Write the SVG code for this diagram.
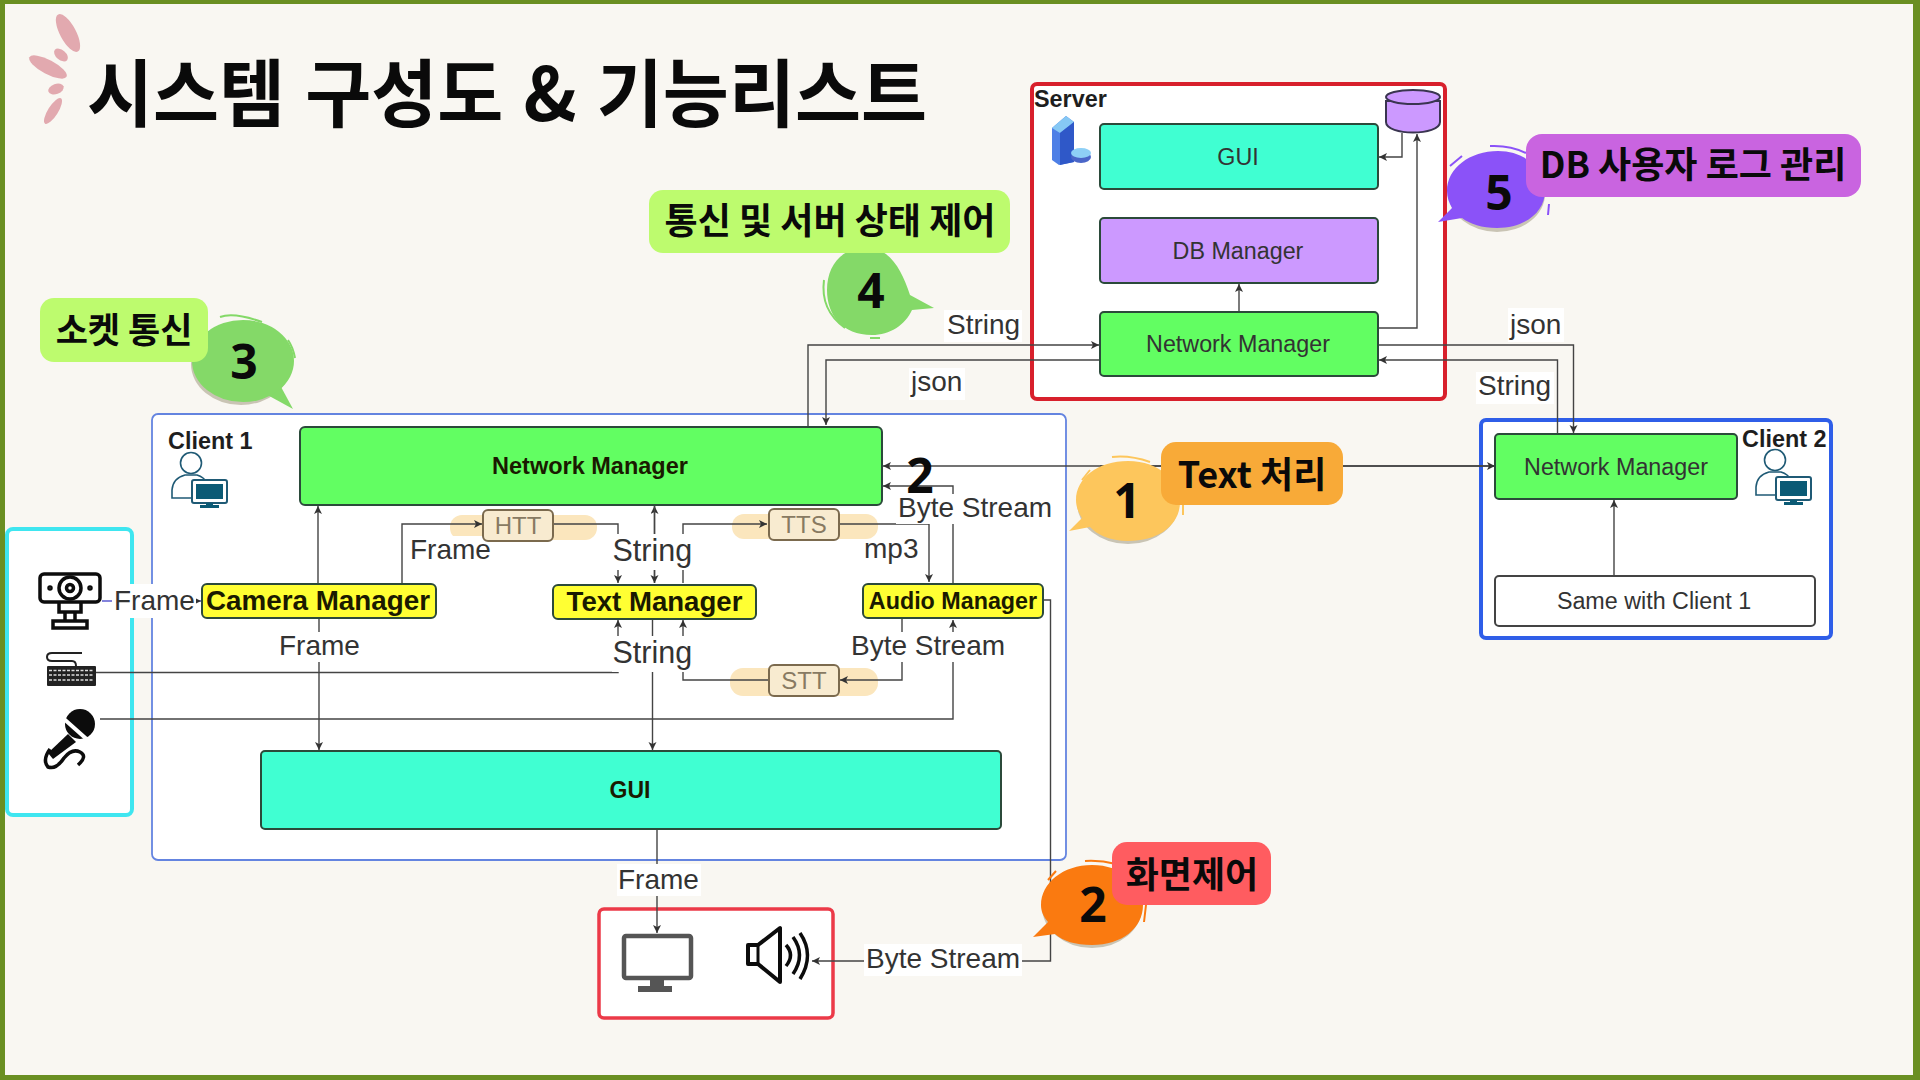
<svg xmlns="http://www.w3.org/2000/svg" width="1920" height="1080" viewBox="0 0 1920 1080">
<style>
.lb{font-family:"Liberation Sans",Arial,sans-serif;font-size:28px;fill:#333;}
.reg{font-family:"Liberation Sans",Arial,sans-serif;font-size:23.3px;fill:#333;text-anchor:middle}
.bold{font-family:"Liberation Sans",Arial,sans-serif;font-weight:700;font-size:23.4px;fill:#1e1e1e;}
.mgr{font-family:"Liberation Sans",Arial,sans-serif;font-weight:700;fill:#1a1a00;text-anchor:middle}
.kr{font-family:"Noto Sans CJK KR","Liberation Sans",sans-serif;font-weight:700;fill:#0a0a0a;text-anchor:middle}
.num{font-family:"Noto Sans","Liberation Sans",sans-serif;font-weight:700;fill:#0a0a0a;text-anchor:middle;font-size:48px}
.box{stroke:#2b4a3a;stroke-width:2}
.g{fill:#62fe62}.t{fill:#40ffd2}.p{fill:#cc99ff;}.y{fill:#ffff33}
.tag{fill:#f8ebd0;stroke:#7b6a4e;stroke-width:2;}
.hl{fill:#fbe6bd}
.tagt{font-family:"Liberation Sans",Arial,sans-serif;font-size:24px;fill:#887a62;text-anchor:middle}
.c{fill:none;stroke:#444;stroke-width:1.4}
.wb{fill:#fff}
.arc{fill:none;stroke-width:2}
.sh{fill:#c9c4b4}
</style>
<defs>
<marker id="a" markerWidth="9" markerHeight="9" refX="8" refY="4" orient="auto" markerUnits="userSpaceOnUse"><path d="M0 0L8 4L0 8L2 4Z" fill="#333"/></marker>
<g id="usr"><circle cx="20" cy="11" r="10.5" fill="#fff" stroke="#1f5a75" stroke-width="1.6"/><path d="M1 46V38Q2 26 14 23H26Q33 25 36 31V46Z" fill="#fff" stroke="#1f5a75" stroke-width="1.6"/><rect x="21" y="28" width="35" height="23" rx="2" fill="#fff" stroke="#1f5a75" stroke-width="2"/><rect x="25" y="32" width="27" height="15" fill="#0b5a75"/><rect x="35" y="51" width="7" height="3" fill="#0b5a75"/><rect x="29" y="53" width="19" height="3" fill="#0b5a75"/></g>
</defs>
<rect width="1920" height="1080" fill="#6a8f22"/>
<rect x="5" y="4" width="1908" height="1071" fill="#f9f7f2"/>
<g id="decor" fill="#e2a9af">
<ellipse cx="68" cy="33" rx="8" ry="21" transform="rotate(-28 68 33)"/>
<ellipse cx="61" cy="55" rx="5" ry="8" transform="rotate(-50 61 55)"/>
<ellipse cx="48" cy="67" rx="7" ry="21" transform="rotate(-62 48 67)"/>
<ellipse cx="56" cy="89" rx="5" ry="8" transform="rotate(70 56 89)"/>
<ellipse cx="53" cy="111" rx="5" ry="15" transform="rotate(32 53 111)"/>
</g>
<text id="title" class="kr" x="507" y="121" font-size="74" word-spacing="4" textLength="840" lengthAdjust="spacingAndGlyphs">시스템 구성도 &amp; 기능리스트</text>

<g id="client1-frame"><rect x="152" y="414" width="914" height="446" rx="6" fill="#fff" stroke="#6484e0" stroke-width="1.800"/></g>
<g id="devices"><rect x="7" y="529" width="125" height="286" rx="6" fill="#fff" stroke="#3fe6f0" stroke-width="4"/></g>
<g id="server-frame"><rect x="1032" y="84" width="413" height="315" rx="5" fill="#fff" stroke="#d8202c" stroke-width="4"/></g>
<g id="client2-frame"><rect x="1481" y="420" width="350" height="218" rx="5" fill="#fff" stroke="#2f5ee8" stroke-width="4"/></g>
<g id="output-frame"><rect x="599" y="909" width="234" height="109" rx="5" fill="#fff" stroke="#ec3a48" stroke-width="3.500"/></g>

<g id="tag-highlights">
<rect class="hl" x="450" y="515" width="147" height="25" rx="12"/>
<rect class="hl" x="732" y="514" width="146" height="25" rx="12"/>
<rect class="hl" x="730" y="668" width="148" height="28" rx="13"/>
</g>

<g id="connectors">
<path class="c" d="M318 583V506" marker-end="url(#a)"/>
<path class="c" d="M402 583V524H482" marker-end="url(#a)"/>
<path class="c" d="M553 524H618V583" marker-end="url(#a)"/>
<path class="c" d="M654.500 583V506" marker-end="url(#a)"/>
<path class="c" d="M654.500 506V583" marker-end="url(#a)"/>
<path class="c" d="M683 583V524H767" marker-end="url(#a)"/>
<path class="c" d="M840 524H929V582" marker-end="url(#a)"/>
<path class="c" d="M953 583V486H883" marker-end="url(#a)"/>
<path class="c" d="M902 619V680H840" marker-end="url(#a)"/>
<path class="c" d="M768 680H683V620" marker-end="url(#a)"/>
<path class="c" d="M96 672.500H618V620" marker-end="url(#a)"/>
<path class="c" d="M100 719H953V620" marker-end="url(#a)"/>
<path class="c" d="M652.500 619V750" marker-end="url(#a)"/>
<path class="c" d="M319 618V750" marker-end="url(#a)"/>
<path class="c" d="M102 601H201" marker-end="url(#a)" style="stroke:#5a5ad0"/>
<path class="c" d="M1496 466H883" marker-end="url(#a)"/>
<path class="c" d="M1100 466H1495" marker-end="url(#a)"/>
<path class="c" d="M808 426V345H1099" marker-end="url(#a)"/>
<path class="c" d="M1100 360H826V425" marker-end="url(#a)"/>
<path class="c" d="M1378 345H1573.500V433" marker-end="url(#a)"/>
<path class="c" d="M1557.500 434V360H1379" marker-end="url(#a)"/>
<path class="c" d="M1239 312V284" marker-end="url(#a)"/>
<path class="c" d="M1378 328H1417V134" marker-end="url(#a)"/>
<path class="c" d="M1402 133V157H1379" marker-end="url(#a)"/>
<path class="c" d="M1614 576V500" marker-end="url(#a)"/>
<path class="c" d="M1043 600H1050.500V961H812" marker-end="url(#a)"/>
<path class="c" d="M657 829V933" marker-end="url(#a)"/>
</g>

<g id="edge-labels">
<rect class="wb" x="112" y="584" width="84" height="34"/><text class="lb" x="114" y="610">Frame</text>
<rect class="wb" x="408" y="536" width="84" height="30"/><text class="lb" x="410" y="559">Frame</text>
<rect class="wb" x="276" y="632" width="86" height="30"/><text class="lb" x="279" y="655">Frame</text>
<rect class="wb" x="612" y="534" width="84" height="36"/><text class="lb" style="font-size:30.500px" x="612.500" y="561">String</text>
<rect class="wb" x="612" y="636" width="84" height="36"/><text class="lb" style="font-size:30.500px" x="612.500" y="663">String</text>
<rect class="wb" x="896" y="494" width="158" height="30"/><text class="lb" x="898" y="517">Byte Stream</text>
<text class="lb" x="864" y="558">mp3</text>
<rect class="wb" x="849" y="632" width="158" height="30"/><text class="lb" x="851" y="655">Byte Stream</text>
<rect class="wb" x="864" y="944" width="158" height="32"/><text class="lb" x="866" y="968">Byte Stream</text>
<rect class="wb" x="617" y="864" width="84" height="32"/><text class="lb" x="618" y="889">Frame</text>
<rect class="wb" x="944" y="310" width="78" height="32"/><text class="lb" x="947" y="334">String</text>
<rect class="wb" x="909" y="368" width="56" height="32"/><text class="lb" x="911" y="391">json</text>
<rect class="wb" x="1508" y="308" width="56" height="34"/><text class="lb" x="1510" y="334">json</text>
<rect class="wb" x="1476" y="372" width="78" height="32"/><text class="lb" x="1478" y="395">String</text>
</g>

<g id="client1-label"><text class="bold" x="168" y="449">Client 1</text><use href="#usr" x="171" y="452"/></g>
<g id="client1-network-manager"><rect class="box g" x="300" y="427" width="582" height="78" rx="5"/><text class="mgr" font-size="23.500" x="590" y="474">Network Manager</text></g>
<g id="camera-manager"><rect class="box y" x="202" y="584" width="234" height="34" rx="5"/><text class="mgr" font-size="27.800" x="318" y="610">Camera Manager</text></g>
<g id="text-manager"><rect class="box y" x="553" y="585" width="203" height="34" rx="5"/><text class="mgr" font-size="27.600" x="654.500" y="611">Text Manager</text></g>
<g id="audio-manager"><rect class="box y" x="863" y="584" width="180" height="34" rx="5"/><text class="mgr" font-size="23.300" x="953" y="609">Audio Manager</text></g>
<g id="client1-gui"><rect class="box t" x="261" y="751" width="740" height="78" rx="4"/><text class="mgr" font-size="23" x="630" y="798">GUI</text></g>
<g id="htt"><rect class="tag" x="483" y="510" width="70" height="31" rx="5"/><text class="tagt" x="518" y="534">HTT</text></g>
<g id="tts"><rect class="tag" x="769" y="509" width="70" height="31" rx="5"/><text class="tagt" x="804" y="533">TTS</text></g>
<g id="stt"><rect class="tag" x="769" y="665" width="70" height="31" rx="5"/><text class="tagt" x="804" y="689">STT</text></g>
<text class="num" x="920" y="493">2</text>

<g id="server-label"><text class="bold" x="1034" y="107">Server</text>
<path d="M1052 128L1066 116L1074 122V162L1059 165L1052 160Z" fill="#4d7fe6"/><path d="M1052 128L1066 116L1074 122L1060 133Z" fill="#86c8f4"/><path d="M1060 133L1074 122V162L1060 165Z" fill="#2f58c8"/><ellipse cx="1081" cy="157" rx="10" ry="6" fill="#4a66c8"/><ellipse cx="1081" cy="153" rx="10" ry="5" fill="#8ed0f6"/></g>
<g id="server-db"><path d="M1386 101V122C1386 136 1440 136 1440 122V101Z" fill="#cc99ff" stroke="#3a3550" stroke-width="2"/><ellipse cx="1413" cy="97" rx="27" ry="7" fill="#cc99ff" stroke="#3a3550" stroke-width="2"/></g>
<g id="server-gui"><rect class="box t" x="1100" y="124" width="278" height="65" rx="4"/><text class="reg" x="1238" y="165">GUI</text></g>
<g id="db-manager"><rect class="box p" x="1100" y="218" width="278" height="65" rx="4"/><text class="reg" x="1238" y="259">DB Manager</text></g>
<g id="server-network-manager"><rect class="box g" x="1100" y="312" width="278" height="64" rx="4"/><text class="reg" x="1238" y="352">Network Manager</text></g>

<g id="client2-label"><text class="bold" x="1742" y="447">Client 2</text><use href="#usr" x="1755" y="449"/></g>
<g id="client2-network-manager"><rect class="box g" x="1495" y="434" width="242" height="65" rx="4"/><text class="reg" x="1616" y="475">Network Manager</text></g>
<g id="same-with-client1"><rect x="1495" y="576" width="320" height="50" rx="4" fill="#fff" stroke="#444" stroke-width="2"/><text class="reg" x="1654" y="609">Same with Client 1</text></g>

<g id="webcam" fill="none" stroke="#0c0c0c" stroke-width="3.500">
<rect x="40" y="574" width="60" height="28" rx="4"/><circle cx="70" cy="588" r="11"/><circle cx="70" cy="588" r="3.500"/><circle cx="50" cy="588" r="1" fill="#0c0c0c"/><circle cx="90" cy="588" r="1" fill="#0c0c0c"/><path d="M59 602V612H81V602M65 612V621M75 612V621"/><rect x="53" y="621" width="34" height="7"/></g>
<g id="keyboard"><path d="M82 653H52Q47 653 47 657Q47 661 52 661H72Q76 661 76 666" fill="none" stroke="#222" stroke-width="2"/><rect x="47" y="666" width="49" height="20" rx="1" fill="#222"/><g stroke="#ddd" stroke-width="1.400" stroke-dasharray="3 1.500"><path d="M49 670.500H94M49 675H94M49 680H94"/></g></g>
<g id="mic"><circle cx="80" cy="724" r="15" fill="#0c0c0c"/><path d="M64 719L91 743" stroke="#fff" stroke-width="4"/><path d="M68 734L48 753L53 759L76 742Z" fill="#0c0c0c"/><path d="M50 749Q42 760 48 767Q56 770 64 758Q72 748 80 752Q88 756 78 765" fill="none" stroke="#0c0c0c" stroke-width="3.500"/></g>
<g id="monitor"><rect x="624" y="936" width="67" height="42" rx="2" fill="#fff" stroke="#555" stroke-width="4.500"/><path d="M650 980H664V986H672V992H638V986H650Z" fill="#555"/></g>
<g id="speaker"><path d="M748 945H758L780 928V982L758 964H748Z" fill="#fff" stroke="#0c0c0c" stroke-width="4" stroke-linejoin="round"/><path d="M758 945V964" stroke="#0c0c0c" stroke-width="3"/><path d="M786 945Q795 955 786 966M793 937Q806 955 793 974M800 933Q815 955 800 979" fill="none" stroke="#0c0c0c" stroke-width="3.500"/></g>

<g id="callout-3">
<ellipse class="sh" cx="241" cy="364" rx="50" ry="41"/>
<path d="M262 392L293 409L280 385Z" fill="#84d968"/>
<ellipse cx="243" cy="361" rx="51" ry="41" fill="#84d968"/>
<path class="arc" stroke="#84d968" d="M220 317Q234 312 262 322M288 340Q293 347 295 358"/>
<text class="num" x="244" y="379">3</text>
<rect x="40" y="298" width="168" height="64" rx="14" fill="#bdfb6e"/>
<text class="kr" x="124" y="343" font-size="35">소켓 통신</text>
</g>
<g id="callout-4">
<path d="M827 290C827 265 842 248 866 247C890 248 902 270 910 295L934 308L912 310C905 325 890 335 872 335C842 335 827 315 827 290Z" fill="#84d968"/>
<path class="arc" stroke="#84d968" d="M824 280Q820 310 845 328M870 338H880"/>
<text class="num" x="871" y="308">4</text>
<rect x="649" y="190" width="361" height="63" rx="14" fill="#bdfb6e"/>
<text class="kr" x="830" y="234" font-size="36">통신 및 서버 상태 제어</text>
</g>
<g id="callout-5">
<ellipse class="sh" cx="1497" cy="194" rx="48" ry="38"/>
<path d="M1447 191C1447 168 1470 151 1498 151C1528 151 1545 172 1545 191C1545 212 1525 228 1497 228C1482 228 1470 224 1462 218L1438 222L1452 208C1449 203 1447 197 1447 191Z" fill="#8b52f8"/>
<path class="arc" stroke="#8b52f8" d="M1450 166L1462 156M1490 146Q1510 145 1526 153M1549 204L1548 215"/>
<text class="num" x="1499" y="210">5</text>
<rect x="1526" y="134" width="335" height="63" rx="16" fill="#c964e0"/>
<text class="kr" x="1693" y="178" font-size="36">DB 사용자 로그 관리</text>
</g>
<g id="callout-1">
<ellipse class="sh" cx="1128" cy="503" rx="51" ry="41"/>
<path d="M1076 500C1076 478 1098 461 1128 461C1160 461 1180 482 1180 502C1180 524 1160 541 1128 541C1110 541 1096 534 1090 527L1069 531L1082 518C1078 512 1076 506 1076 500Z" fill="#fdc65c"/>
<path class="arc" stroke="#fdc65c" d="M1082 480L1090 470M1112 457Q1130 455 1150 462M1183 505V515"/>
<text class="num" x="1127" y="518">1</text>
<rect x="1161" y="442" width="182" height="63" rx="15" fill="#f8aa38"/>
<text class="kr" x="1252" y="488" font-size="36">Text 처리</text>
</g>
<g id="callout-2">
<ellipse class="sh" cx="1092" cy="907" rx="50" ry="41"/>
<path d="M1041 905C1041 883 1063 865 1092 865C1122 865 1143 884 1143 905C1143 928 1122 945 1092 945C1075 945 1063 941 1055 934L1033 937L1048 922C1043 916 1041 911 1041 905Z" fill="#fa7a10"/>
<path class="arc" stroke="#fa7a10" d="M1048 880L1056 871M1085 861Q1100 860 1116 864M1146 905L1144 922"/>
<text class="num" x="1093" y="922">2</text>
<rect x="1112" y="842" width="159" height="63" rx="15" fill="#ff5c60"/>
<text class="kr" x="1192" y="888" font-size="36">화면제어</text>
</g>
</svg>
